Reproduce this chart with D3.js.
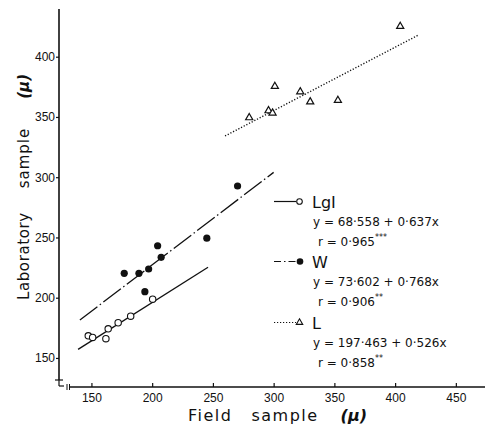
<!DOCTYPE html>
<html>
<head>
<meta charset="utf-8">
<script src="https://cdn.jsdelivr.net/npm/d3@7"></script>
<style>
  body { margin: 0; background: #fff; }
  svg { display: block; font-family: 'DejaVu Sans', sans-serif; }
</style>
</head>
<body>
<div id="chart"></div>
<script>
// Field sample (x) vs Laboratory sample (y), μ
const lgiX = [147.4, 151, 163.8, 161.9, 172, 182.3, 200.4]
const lgiY = [168.4, 167, 174.2, 166, 179.2, 184.7, 198.8]

const wX = [177, 189.1, 197.1, 194, 204.5, 207.4, 245, 270.3]
const wY = [220.2, 220.2, 223.8, 205, 243.1, 233.5, 249.4, 292.7]

const lX = [404.2, 301, 321.9, 330.1, 352.9, 295.8, 299.1, 279.9]
const lY = [425.2, 375.4, 370.9, 362.6, 363.8, 355.2, 353.3, 349.4]

// regression lines: [intercept, slope, xFrom, xTo]
const lgiFit = [68.558, 0.637, 139, 246]
const wFit = [73.602, 0.768, 140.5, 300]
const lFit = [197.463, 0.526, 260, 419]

const xTicks = [150, 200, 250, 300, 350, 400, 450]
const yTicks = [150, 200, 250, 300, 350, 400]

const legendRows = [
  { name: 'LgI', eq: 'y = 68·558 + 0·637x', r: 'r = 0·965', star: '***' },
  { name: 'W', eq: 'y = 73·602 + 0·768x', r: 'r = 0·906', star: '**' },
  { name: 'L', eq: 'y = 197·463 + 0·526x', r: 'r = 0·858', star: '**' }
]

const width = 485
const height = 425

const svg = d3.select('#chart').append('svg')
  .attr('width', width)
  .attr('height', height)

const x = d3.scaleLinear().domain([123.3, 474]).range([59, 485])
const y = d3.scaleLinear().domain([200, 400]).range([297.7, 56.7])

const axisColor = '#111'

// y axis
const yAxisg = svg.append('g')
  .attr('transform', 'translate(59, 0)')
  .call(d3.axisLeft(y).tickValues(yTicks).tickSize(3).tickPadding(1).tickSizeOuter(0))
yAxisg.select('.domain').remove()
yAxisg.selectAll('text').style('font-size', '12px').attr('fill', axisColor)
yAxisg.selectAll('line').attr('stroke', axisColor).attr('stroke-width', 1.2)
svg.append('line')
  .attr('x1', 59).attr('x2', 59).attr('y1', 9).attr('y2', 380)
  .attr('stroke', axisColor).attr('stroke-width', 1.6)
// axis break marks
svg.append('line').attr('x1', 55).attr('x2', 63).attr('y1', 380).attr('y2', 380)
  .attr('stroke', axisColor).attr('stroke-width', 1.2)
svg.append('line').attr('x1', 59).attr('x2', 59).attr('y1', 380).attr('y2', 386)
  .attr('stroke', axisColor).attr('stroke-width', 1.2)
svg.append('line').attr('x1', 59).attr('x2', 64).attr('y1', 386).attr('y2', 386)
  .attr('stroke', axisColor).attr('stroke-width', 1.2)
svg.append('line').attr('x1', 67).attr('x2', 67).attr('y1', 384).attr('y2', 390)
  .attr('stroke', axisColor).attr('stroke-width', 1)
svg.append('line').attr('x1', 69.5).attr('x2', 69.5).attr('y1', 384).attr('y2', 390)
  .attr('stroke', axisColor).attr('stroke-width', 1)

// x axis
const xAxisg = svg.append('g')
  .attr('transform', 'translate(0, 387)')
  .call(d3.axisBottom(x).tickValues(xTicks).tickSizeInner(-4).tickSizeOuter(0).tickPadding(6.5))
xAxisg.select('.domain').remove()
xAxisg.selectAll('text').style('font-size', '12px').attr('fill', axisColor)
xAxisg.selectAll('line').attr('stroke', axisColor).attr('stroke-width', 1.2)
svg.append('line')
  .attr('x1', 69.5).attr('x2', 485).attr('y1', 387).attr('y2', 387)
  .attr('stroke', axisColor).attr('stroke-width', 1.6)

// axis titles
const xt = svg.append('text')
  .attr('x', 188).attr('y', 421)
  .style('font-size', '16px')
  .style('letter-spacing', '1.5px')
  .attr('fill', axisColor)
xt.append('tspan').text('Field')
xt.append('tspan').attr('dx', 19).text('sample')
xt.append('tspan').attr('dx', 22).text('(μ)')
  .style('font-style', 'italic').style('font-weight', 'bold').style('letter-spacing', '0px')

const yt = svg.append('text')
  .attr('transform', 'translate(28.5, 300) rotate(-90)')
  .style('font-size', '15px')
  .style('letter-spacing', '0.6px')
  .attr('fill', axisColor)
yt.append('tspan').text('Laboratory')
yt.append('tspan').attr('dx', 24).text('sample')
  .style('letter-spacing', '1px')
yt.append('tspan').attr('dx', 29).text('(μ)')
  .style('font-style', 'italic').style('font-weight', 'bold').style('letter-spacing', '0px')

// regression lines
function fitLine(f, dash) {
  const xs = [f[2], f[3]]
  svg.append('line')
    .attr('x1', x(xs[0])).attr('y1', y(f[0] + f[1] * xs[0]))
    .attr('x2', x(xs[1])).attr('y2', y(f[0] + f[1] * xs[1]))
    .attr('stroke', '#111')
    .attr('stroke-width', dash === '1.2,1.8' ? 1.4 : 1.3)
    .attr('stroke-dasharray', dash)
}
fitLine(lgiFit, null)
fitLine(wFit, '22,3,1.5,3')
fitLine(lFit, '1.2,1.8')

// markers
const tri = d3.symbol().type(d3.symbolTriangle).size(22)

svg.append('g').selectAll('circle').data(d3.zip(lgiX, lgiY)).enter()
  .append('circle')
  .attr('cx', d => x(d[0])).attr('cy', d => y(d[1]))
  .attr('r', 3.2)
  .attr('fill', '#fff').attr('stroke', '#111').attr('stroke-width', 1.1)

svg.append('g').selectAll('circle').data(d3.zip(wX, wY)).enter()
  .append('circle')
  .attr('cx', d => x(d[0])).attr('cy', d => y(d[1]))
  .attr('r', 3.6)
  .attr('fill', '#111')

svg.append('g').selectAll('path').data(d3.zip(lX, lY)).enter()
  .append('path')
  .attr('d', tri)
  .attr('transform', d => `translate(${x(d[0])}, ${y(d[1])})`)
  .attr('fill', '#fff').attr('stroke', '#111').attr('stroke-width', 1.2)

// legend
const legendY = [201.5, 261.5, 322.5]
const legendDash = [null, '7,3,1.5,3', '1.2,1.8']
const lg = svg.append('g')
legendRows.forEach((row, i) => {
  const ly = legendY[i]
  lg.append('line')
    .attr('x1', 274).attr('x2', 296).attr('y1', ly).attr('y2', ly)
    .attr('stroke', '#111').attr('stroke-width', 1.2)
    .attr('stroke-dasharray', legendDash[i])
  if (i === 0) {
    lg.append('circle').attr('cx', 299.5).attr('cy', ly).attr('r', 2.8)
      .attr('fill', '#fff').attr('stroke', '#111').attr('stroke-width', 1.1)
  } else if (i === 1) {
    lg.append('circle').attr('cx', 300).attr('cy', ly).attr('r', 3.3).attr('fill', '#111')
  } else {
    lg.append('path').attr('d', d3.symbol().type(d3.symbolTriangle).size(18))
      .attr('transform', `translate(299.5, ${ly})`)
      .attr('fill', '#fff').attr('stroke', '#111').attr('stroke-width', 1.1)
  }
  lg.append('text')
    .attr('x', 312).attr('y', ly + 6)
    .style('font-size', '16px')
    .attr('fill', '#111')
    .text(row.name)
  lg.append('text')
    .attr('x', 313).attr('y', ly + 24.5)
    .style('font-size', '12px')
    .attr('fill', '#111')
    .text(row.eq)
  const rt = lg.append('text')
    .attr('x', 318).attr('y', ly + 44)
    .style('font-size', '12px')
    .attr('fill', '#111')
  rt.append('tspan').text(row.r)
  rt.append('tspan').text(row.star).attr('dy', -6).style('font-size', '8px')
})
</script>
</body>
</html>
